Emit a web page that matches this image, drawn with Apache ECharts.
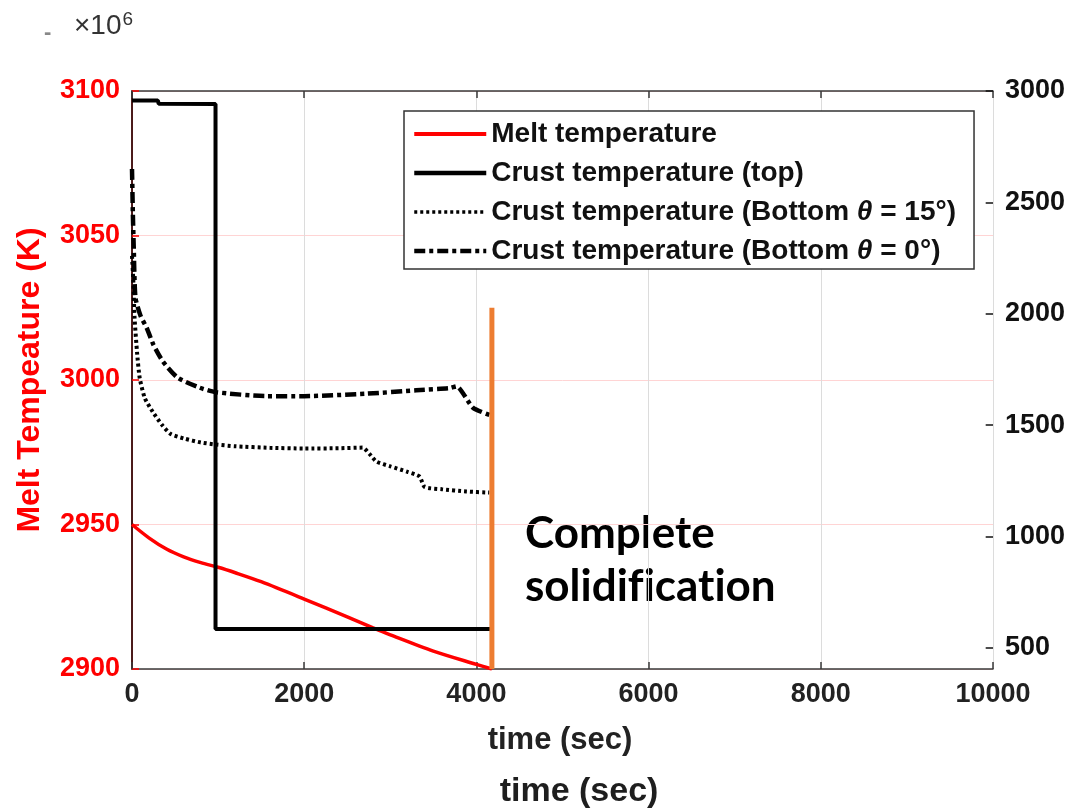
<!DOCTYPE html>
<html>
<head>
<meta charset="utf-8">
<script src="https://cdn.jsdelivr.net/npm/echarts@6/dist/echarts.min.js"></script>
<style>
  html, body { margin: 0; padding: 0; background: #fff; }
  #chart { width: 1072px; height: 810px; }
</style>
</head>
<body>
<div id="chart"></div>
<script>
// time (s) / value pairs for each curve
const meltTemp = [
  [0, 2950], [200, 2945.3], [400, 2941.5], [600, 2938.8], [800, 2936.8],
  [1000, 2935.2], [1200, 2933.3], [1500, 2930.2], [2000, 2924.2], [2500, 2918],
  [2800, 2914.2], [3000, 2911.8], [3500, 2906.2], [4000, 2901.6], [4180, 2900]
];
const crustTop = [
  [0, 2957], [300, 2957], [310, 2943], [970, 2942], [970, 585], [4180, 585]
];
const crustBottom15 = [
  [0, 2260], [15, 2150], [30, 1980], [60, 1820], [90, 1710], [150, 1620],
  [240, 1560], [350, 1500], [450, 1460], [600, 1440], [800, 1422], [970, 1413],
  [1200, 1405], [1600, 1398], [2000, 1395], [2400, 1396], [2680, 1399],
  [2760, 1370], [2840, 1336], [3000, 1315], [3200, 1290], [3340, 1269],
  [3400, 1222], [3600, 1212], [3880, 1202], [4150, 1197]
];
const crustBottom0 = [
  [0, 2650], [10, 2450], [20, 2300], [40, 2072], [100, 1990], [170, 1937],
  [250, 1860], [360, 1785], [530, 1713], [786, 1668], [970, 1648],
  [1560, 1630], [2000, 1630], [2720, 1641], [3300, 1656], [3690, 1666],
  [3770, 1674], [3960, 1578], [4170, 1543]
];
// complete-solidification marker on the melt-temperature axis
const solidification = [[4180, 2900], [4180, 3025]];

const leftTicks = { min: 2900, max: 3100, interval: 50 };
const rightRange = { min: 405, max: 3000 };
const rightTicks = [500, 1000, 1500, 2000, 2500, 3000];
const xTicks = { min: 0, max: 10000, interval: 2000 };

const seriesNames = [
  'Melt temperature',
  'Crust temperature (top)',
  'Crust temperature (Bottom θ = 15°)',
  'Crust temperature (Bottom θ = 0°)'
];
const legendLineWidths = [4, 4.5, 3.5, 4.5];

const FONT = '"Liberation Sans", Arial, sans-serif';
const plain = v => String(v);
const chart = echarts.init(document.getElementById('chart'));

// inward tick marks of the right axis, drawn at the right edge of the plot
const tickLen = xTicks.max * 0.0085;
const rightTickMarks = rightTicks.map(v => [
  { coord: [xTicks.max - tickLen, v] },
  { coord: [xTicks.max, v] }
]);

chart.setOption({
  animation: false,
  backgroundColor: '#ffffff',
  grid: { left: 132, right: 79, top: 91, bottom: 141 },
  xAxis: [{
    type: 'value',
    min: xTicks.min, max: xTicks.max, interval: xTicks.interval,
    position: 'bottom',
    axisLine: { lineStyle: { color: '#3a3a3a', width: 1.5 } },
    axisTick: { inside: true, length: 7, lineStyle: { color: '#3a3a3a', width: 1.5 } },
    axisLabel: { color: '#222', fontSize: 27, fontWeight: 'bold', fontFamily: FONT, margin: 12, formatter: plain },
    splitLine: { show: true, lineStyle: { color: '#dcdcdc', width: 1 } }
  }, {
    type: 'value',
    min: xTicks.min, max: xTicks.max, interval: xTicks.interval,
    position: 'top',
    axisLine: { lineStyle: { color: '#3a3a3a', width: 1.5 } },
    axisTick: { inside: true, length: 7, lineStyle: { color: '#3a3a3a', width: 1.5 } },
    axisLabel: { show: false },
    splitLine: { show: false }
  }],
  yAxis: [{
    type: 'value',
    min: leftTicks.min, max: leftTicks.max, interval: leftTicks.interval,
    position: 'left',
    name: 'Melt Tempeature (K)',
    nameLocation: 'middle',
    nameRotate: 90,
    nameGap: 86,
    nameTextStyle: { color: '#ff0000', fontSize: 32, fontWeight: 'bold', fontFamily: FONT },
    axisLine: { show: true, lineStyle: { color: '#ff0000', width: 1.5 } },
    axisTick: { show: true, inside: true, length: 7, lineStyle: { color: '#ff0000', width: 1.5 } },
    axisLabel: { color: '#ff0000', fontSize: 27, fontWeight: 'bold', fontFamily: FONT, margin: 12, formatter: plain },
    splitLine: { show: true, lineStyle: { color: '#ffd4d4', width: 1 } }
  }, {
    type: 'value',
    min: rightRange.min, max: rightRange.max,
    position: 'right',
    axisLine: { show: true, lineStyle: { color: '#111', width: 1.5 } },
    axisTick: { show: false },
    axisLabel: { color: '#111', fontSize: 27, fontWeight: 'bold', fontFamily: FONT, margin: 12, customValues: rightTicks, formatter: plain },
    splitLine: { show: false }
  }],
  legend: {
    data: seriesNames.map((name, i) => ({
      name,
      itemStyle: { opacity: 0 },
      lineStyle: { width: legendLineWidths[i] }
    })),
    orient: 'vertical',
    left: 404, top: 111,
    padding: [9, 18, 4, 8],
    itemWidth: 72, itemHeight: 14, itemGap: 11, itemTextGap: 4,
    backgroundColor: '#ffffff',
    borderColor: '#333', borderWidth: 1.5, borderRadius: 0,
    formatter: name => name.replace('θ', '{i|θ}'),
    textStyle: {
      color: '#111', fontSize: 28, fontWeight: 'bold', fontFamily: FONT, lineHeight: 28,
      rich: { i: { color: '#111', fontSize: 28, fontWeight: 'bold', fontStyle: 'italic', fontFamily: FONT, lineHeight: 28 } }
    }
  },
  series: [{
    name: seriesNames[0], type: 'line', xAxisIndex: 0, yAxisIndex: 0,
    data: meltTemp, symbol: 'none', smooth: 0.3,
    lineStyle: { color: '#ff0000', width: 3.5 }, itemStyle: { color: '#ff0000' }
  }, {
    name: seriesNames[1], type: 'line', xAxisIndex: 0, yAxisIndex: 1,
    data: crustTop, symbol: 'none',
    lineStyle: { color: '#000', width: 4 }, itemStyle: { color: '#000' }
  }, {
    name: seriesNames[2], type: 'line', xAxisIndex: 0, yAxisIndex: 1,
    data: crustBottom15, symbol: 'none', smooth: 0.2,
    lineStyle: { color: '#000', width: 4, type: [3, 3] }, itemStyle: { color: '#000' }
  }, {
    name: seriesNames[3], type: 'line', xAxisIndex: 0, yAxisIndex: 1,
    data: crustBottom0, symbol: 'none', smooth: 0.2,
    lineStyle: { color: '#000', width: 4.5, type: [11, 4, 4, 4] }, itemStyle: { color: '#000' }
  }, {
    name: 'solidification', type: 'line', xAxisIndex: 0, yAxisIndex: 0,
    data: solidification, symbol: 'none', z: 5,
    lineStyle: { color: '#ed7d31', width: 5 }, itemStyle: { color: '#ed7d31' }
  }, {
    name: 'right ticks', type: 'line', xAxisIndex: 0, yAxisIndex: 1,
    data: [], symbol: 'none', silent: true,
    markLine: {
      silent: true, symbol: ['none', 'none'], animation: false,
      label: { show: false },
      lineStyle: { color: '#111', width: 1.5, type: 'solid' },
      data: rightTickMarks
    }
  }],
  graphic: [{
    type: 'text', left: 44, top: 22,
    style: { text: '-', fill: '#888', font: 'bold 22px ' + FONT }
  }, {
    type: 'text', left: 74, top: 10,
    style: {
      text: '×10{s|6}',
      fill: '#333', font: '28px ' + FONT,
      rich: { s: { fill: '#333', fontSize: 19, fontFamily: FONT, verticalAlign: 'top', padding: [0, 0, 14, 1] } }
    }
  }, {
    type: 'text', left: 525, top: 507,
    style: {
      // zero-width non-joiners keep the f/i and t/i glyphs separate
      text: 'Complete\nsolidif\u200Cicat\u200Cion',
      fill: '#000', font: 'bold 44px Lato, "Open Sans", sans-serif', lineHeight: 53
    }
  }, {
    type: 'text', x: 560, y: 740,
    style: {
      text: 'time (sec)', fill: '#222', font: 'bold 31px ' + FONT,
      textAlign: 'center', textVerticalAlign: 'middle'
    }
  }, {
    type: 'text', x: 579, y: 792,
    style: {
      text: 'time (sec)', fill: '#1e1e1e', font: 'bold 34px ' + FONT,
      textAlign: 'center', textVerticalAlign: 'middle'
    }
  }]
});
</script>
</body>
</html>
